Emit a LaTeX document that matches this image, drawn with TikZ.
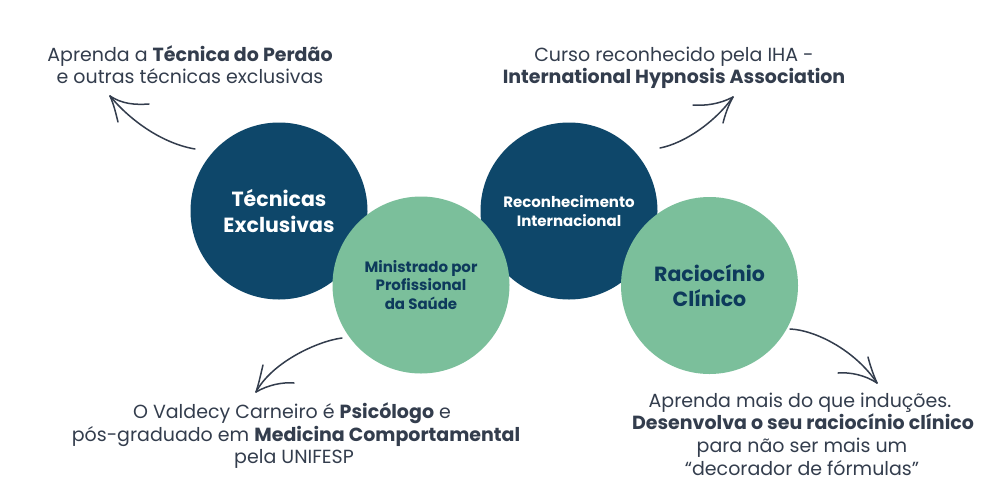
\documentclass[tikz,border=0pt]{standalone}
\usepackage{fontspec}
\setmainfont{Poppins}
\definecolor{navy}{HTML}{0E476A}
\definecolor{sage}{HTML}{7BBF9B}
\definecolor{ink}{HTML}{333D4D}
\definecolor{deepnavy}{HTML}{0E3A5C}
\begin{document}
\begin{tikzpicture}[x=1pt,y=-1pt,
  bubble/.style={circle,minimum size=177pt,inner sep=0pt,align=center},
  darkbubble/.style={bubble,fill=navy,text=white},
  lightbubble/.style={bubble,fill=sage,text=deepnavy},
  bigtxt/.style={font=\fontsize{20.5}{25.5}\selectfont\bfseries},
  smalltxt/.style={font=\fontsize{15}{18.7}\selectfont\bfseries},
  caption/.style={anchor=base,text=ink,inner sep=0pt,font=\fontsize{19}{22}\selectfont},
  shaft/.style={draw=ink,line width=1.5pt,line cap=round},
  barb/.style={draw=ink,line width=1.5pt,line cap=round}
]
\useasboundingbox (0,0) rectangle (992,496);
\fill[white] (0,0) rectangle (992,496);
% circles
\node[darkbubble,bigtxt] (tec) at (279,211) {Técnicas\\Exclusivas};
\node[darkbubble,smalltxt] (rec) at (569,211) {Reconhecimento\\Internacional};
\node[lightbubble,smalltxt] (min) at (421,285) {Ministrado por\\Profissional\\da Saúde};
\node[lightbubble,bigtxt] (rac) at (709.5,285.5) {Raciocínio\\Clínico};
% captions
\node[caption] (tl1) at (190,61) {Aprenda a \textbf{Técnica do Perdão}};
\node[caption] (tl2) at (190,83) {e outras técnicas exclusivas};
\node[caption] (tr1) at (674,61) {Curso reconhecido pela IHA -};
\node[caption] (tr2) at (674,83) {\textbf{International Hypnosis Association}};
\node[caption] (bl1) at (292,418) {O Valdecy Carneiro é \textbf{Psicólogo} e};
\node[caption] (bl2) at (296,441) {pós-graduado em \textbf{Medicina Comportamental}};
\node[caption] (bl3) at (294,463) {pela UNIFESP};
\node[caption] (br1) at (800,407) {Aprenda mais do que induções.};
\node[caption] (br2) at (803,429) {\textbf{Desenvolva o seu raciocínio clínico}};
\node[caption] (br3) at (802,452) {para não ser mais um};
\node[caption] (br4) at (802,475) {“decorador de fórmulas”};
% arrow anchors
\coordinate (a1s) at (195,149); \coordinate (a1t) at (110,96);
\coordinate (a2s) at (660,148); \coordinate (a2t) at (733,97);
\coordinate (a3s) at (342,338); \coordinate (a3t) at (256,392);
\coordinate (a4s) at (790,329); \coordinate (a4t) at (877,383);
% arrow 1
\draw[shaft] (a1s) .. controls (160,143) and (128,118) .. (a1t);
\draw[barb] (a1t) .. controls (122,104) and (135,105) .. (149,104);
\draw[barb] (a1t) .. controls (114,105) and (116,114) .. (118,122);
% arrow 2
\draw[shaft] (a2s) .. controls (685,143) and (715,122) .. (a2t);
\draw[barb] (a2t) .. controls (720,104) and (705,106) .. (693,105);
\draw[barb] (a2t) .. controls (728,106) and (725,115) .. (723,123);
% arrow 3
\draw[shaft] (a3s) .. controls (318,341) and (272,362) .. (a3t);
\draw[barb] (a3t) .. controls (259,383) and (261,373) .. (263,365);
\draw[barb] (a3t) .. controls (268,385) and (282,382) .. (294,383);
% arrow 4
\draw[shaft] (a4s) .. controls (815,330) and (855,350) .. (a4t);
\draw[barb] (a4t) .. controls (873,374) and (870,365) .. (868,357);
\draw[barb] (a4t) .. controls (865,375) and (850,372) .. (838,373);
\end{tikzpicture}
\end{document}
